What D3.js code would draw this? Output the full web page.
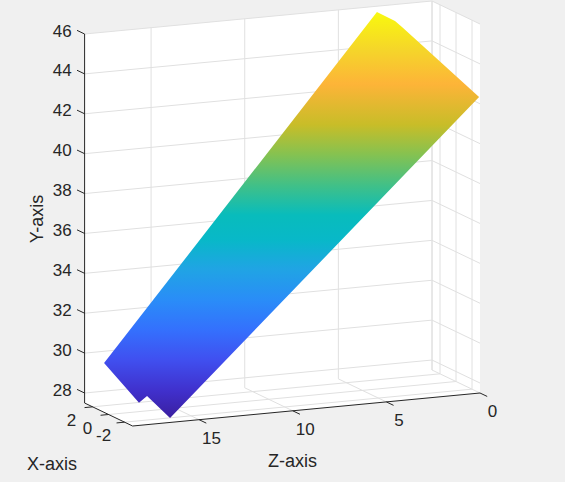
<!DOCTYPE html>
<html><head><meta charset="utf-8">
<script src="https://cdn.jsdelivr.net/npm/d3@7"></script>
<style>html,body{margin:0;padding:0;background:#f0f0f0}svg{display:block}text{font-family:"Liberation Sans",Arial,sans-serif;fill:#262626}</style>
</head><body><svg id="c" width="565" height="482"></svg>
<script>
const xTicks=[-2,0,2];
const yTicks=[28,30,32,34,36,38,40,42,44,46];
const zTicks=[0,5,10,15];
const xLimits=[-3,3];
const yLimits=[27.5,46];
const zLimits=[0,18.55];
// surface outline
const surfaceX=[3,1,1,-3,-3,0.5,1,3];
const surfaceY=[29.41,27.71,28.02,27.72,42.34,45.41,45.63,45.71];
const surfaceZ=[17.51,16.5,16.07,16.55,0.05,2.67,2.83,2.94];
// colour by Y value
const colorValues=[27.7,28.9,30.3,31.6,32.9,34.3,35.6,36.7,38.0,39.4,40.7,42.5,44.0,45.3,45.7];
const colorStops=["#3a1fa0","#4030cc","#4050f0","#3470fd","#2a8cf8","#20a4e4","#08b8c8","#08bcbc","#40c088","#86c250","#c8bd28","#fdb438","#f5d52a","#f8f014","#f8fa14"];
const originX=480,originY=393;
const xToH=d3.scaleLinear(xLimits,[0,-48]),xToV=d3.scaleLinear(xLimits,[0,-23]);
const zToH=d3.scaleLinear(zLimits,[0,-347.4]),zToV=d3.scaleLinear(zLimits,[0,33]);
const yToV=d3.scaleLinear(yLimits,[0,-369]);
const P=(x,y,z)=>[originX+xToH(x)+zToH(z),originY+xToV(x)+zToV(z)+yToV(y)];
const svg=d3.select("#c");
const [x0,x1]=xLimits,[y0,y1]=yLimits,[z0,z1]=zLimits;
const line=d3.line();
// white box hull
svg.append("path").attr("fill","#fff").attr("d",line([P(x1,y1,z1),P(x1,y1,z0),P(x0,y1,z0),P(x0,y0,z0),P(x0,y0,z1),P(x1,y0,z1)])+"Z");
// grids
const gridPaths=[];
yTicks.forEach(v=>gridPaths.push([P(x1,v,z1),P(x1,v,z0),P(x0,v,z0)]));
zTicks.forEach(v=>gridPaths.push([P(x0,y0,v),P(x1,y0,v),P(x1,y1,v)]));
xTicks.forEach(v=>gridPaths.push([P(v,y0,z1),P(v,y0,z0),P(v,y1,z0)]));
gridPaths.push([P(x1,y1,z0),P(x1,y0,z0)]);
svg.append("g").attr("fill","none").attr("stroke","#e0e0e0").attr("stroke-width",1)
 .selectAll("path").data(gridPaths).join("path").attr("d",d=>line(d));
// colour
const pts=surfaceX.map((x,i)=>P(x,surfaceY[i],surfaceZ[i]));
const topPx=d3.min(pts,d=>d[1]),botPx=d3.max(pts,d=>d[1]);
const grad=svg.append("defs").append("linearGradient").attr("id","g").attr("gradientUnits","userSpaceOnUse")
 .attr("x1",0).attr("x2",0).attr("y1",botPx).attr("y2",topPx);
const off=d3.scaleLinear(d3.extent(colorValues),[0,1]);
grad.selectAll("stop").data(colorStops).join("stop").attr("offset",(d,i)=>off(colorValues[i])).attr("stop-color",d=>d);
svg.append("path").attr("d",line(pts)+"Z").attr("fill","url(#g)");
// axis lines and ticks
const ink="#262626";
const axisG=svg.append("g").attr("fill","none").attr("stroke",ink).attr("stroke-width",1);
[[P(x1,y0,z1),P(x1,y1,z1)],[P(x1,y0,z1),P(x0,y0,z1)],[P(x0,y0,z1),P(x0,y0,z0)]].forEach(d=>axisG.append("path").attr("d",line(d)));
yTicks.forEach(v=>axisG.append("path").attr("d",line([P(x1,v,z1),P(x1+0.95,v,z1)])));
zTicks.forEach(v=>axisG.append("path").attr("d",line([P(x0,y0,v),P(x0-0.9,y0,v)])));
xTicks.forEach(v=>axisG.append("path").attr("d",line([P(v,y0,z1),P(v,y0,z1+0.43)])));
const label=(s,x,y,a,fs)=>svg.append("text").attr("x",x).attr("y",y).attr("text-anchor",a||"middle").attr("dominant-baseline","central").attr("font-size",fs||17).text(s);
yTicks.forEach(v=>{const p=P(x1,v,z1);label(v,p[0]-13,p[1]-3,"end");});
zTicks.forEach(v=>{const p=P(x0,y0,v);label(v,p[0]+12.5,p[1]+18.5);});
xTicks.forEach(v=>{const p=P(v,y0,z1);label(v,p[0]-21,p[1]+13.5);});
label("X-axis",52,464,"middle",18);
label("Z-axis",292.5,461,"middle",18);
label("Y-axis",0,0,"middle",18).attr("transform","translate(37,219) rotate(-90)");
</script></body></html>
